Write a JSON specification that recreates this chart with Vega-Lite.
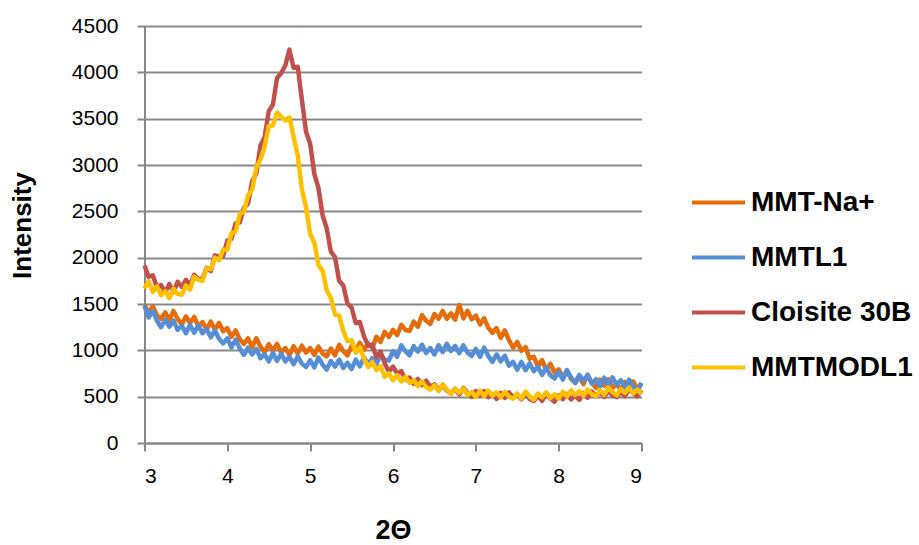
{
"$schema": "https://vega.github.io/schema/vega-lite/v6.json",
"width": 497, "height": 417,
"autosize": {"type": "none"},
"padding": {"left": 144.5, "top": 26, "right": 277.5, "bottom": 102},
"background": "white",
"config": {"view": {"stroke": null}, "font": "Liberation Sans"},
"datasets": {
"na": [{"x":3,"y":1490},{"x":3.05,"y":1405},{"x":3.1,"y":1475},{"x":3.15,"y":1380},{"x":3.2,"y":1340},{"x":3.25,"y":1410},{"x":3.3,"y":1325},{"x":3.35,"y":1425},{"x":3.4,"y":1340},{"x":3.45,"y":1280},{"x":3.5,"y":1365},{"x":3.55,"y":1295},{"x":3.6,"y":1360},{"x":3.65,"y":1260},{"x":3.7,"y":1305},{"x":3.75,"y":1225},{"x":3.8,"y":1310},{"x":3.85,"y":1220},{"x":3.9,"y":1295},{"x":3.95,"y":1205},{"x":4,"y":1240},{"x":4.05,"y":1145},{"x":4.1,"y":1215},{"x":4.15,"y":1120},{"x":4.2,"y":1070},{"x":4.25,"y":1130},{"x":4.3,"y":1035},{"x":4.35,"y":1130},{"x":4.4,"y":1040},{"x":4.45,"y":980},{"x":4.5,"y":1065},{"x":4.55,"y":1000},{"x":4.6,"y":1070},{"x":4.65,"y":975},{"x":4.7,"y":1025},{"x":4.75,"y":950},{"x":4.8,"y":1045},{"x":4.85,"y":965},{"x":4.9,"y":1050},{"x":4.95,"y":975},{"x":5,"y":1025},{"x":5.05,"y":950},{"x":5.1,"y":1040},{"x":5.15,"y":965},{"x":5.2,"y":935},{"x":5.25,"y":1020},{"x":5.3,"y":945},{"x":5.35,"y":1060},{"x":5.4,"y":990},{"x":5.45,"y":945},{"x":5.5,"y":1045},{"x":5.55,"y":995},{"x":5.6,"y":1080},{"x":5.65,"y":1005},{"x":5.7,"y":1075},{"x":5.75,"y":1025},{"x":5.8,"y":1145},{"x":5.85,"y":1090},{"x":5.9,"y":1200},{"x":5.95,"y":1145},{"x":6,"y":1220},{"x":6.05,"y":1165},{"x":6.1,"y":1275},{"x":6.15,"y":1220},{"x":6.2,"y":1210},{"x":6.25,"y":1310},{"x":6.3,"y":1255},{"x":6.35,"y":1380},{"x":6.4,"y":1320},{"x":6.45,"y":1285},{"x":6.5,"y":1390},{"x":6.55,"y":1340},{"x":6.6,"y":1425},{"x":6.65,"y":1340},{"x":6.7,"y":1400},{"x":6.75,"y":1330},{"x":6.8,"y":1490},{"x":6.85,"y":1345},{"x":6.9,"y":1425},{"x":6.95,"y":1335},{"x":7,"y":1375},{"x":7.05,"y":1280},{"x":7.1,"y":1345},{"x":7.15,"y":1245},{"x":7.2,"y":1190},{"x":7.25,"y":1240},{"x":7.3,"y":1135},{"x":7.35,"y":1215},{"x":7.4,"y":1110},{"x":7.45,"y":1030},{"x":7.5,"y":1090},{"x":7.55,"y":995},{"x":7.6,"y":1035},{"x":7.65,"y":910},{"x":7.7,"y":930},{"x":7.75,"y":825},{"x":7.8,"y":895},{"x":7.85,"y":790},{"x":7.9,"y":855},{"x":7.95,"y":760},{"x":8,"y":795},{"x":8.05,"y":705},{"x":8.1,"y":780},{"x":8.15,"y":692},{"x":8.2,"y":650},{"x":8.25,"y":720},{"x":8.3,"y":635},{"x":8.35,"y":735},{"x":8.4,"y":652},{"x":8.45,"y":595},{"x":8.5,"y":683},{"x":8.55,"y":617},{"x":8.6,"y":686},{"x":8.65,"y":590},{"x":8.7,"y":640},{"x":8.75,"y":565},{"x":8.8,"y":660},{"x":8.85,"y":580},{"x":8.9,"y":665},{"x":8.95,"y":585},{"x":9,"y":640}],
"l1": [{"x":3,"y":1480},{"x":3.05,"y":1355},{"x":3.1,"y":1425},{"x":3.15,"y":1320},{"x":3.2,"y":1250},{"x":3.25,"y":1330},{"x":3.3,"y":1255},{"x":3.35,"y":1320},{"x":3.4,"y":1220},{"x":3.45,"y":1265},{"x":3.5,"y":1185},{"x":3.55,"y":1275},{"x":3.6,"y":1190},{"x":3.65,"y":1270},{"x":3.7,"y":1185},{"x":3.75,"y":1230},{"x":3.8,"y":1140},{"x":3.85,"y":1215},{"x":3.9,"y":1125},{"x":3.95,"y":1075},{"x":4,"y":1130},{"x":4.05,"y":1030},{"x":4.1,"y":1115},{"x":4.15,"y":1020},{"x":4.2,"y":950},{"x":4.25,"y":1030},{"x":4.3,"y":955},{"x":4.35,"y":1015},{"x":4.4,"y":915},{"x":4.45,"y":960},{"x":4.5,"y":880},{"x":4.55,"y":970},{"x":4.6,"y":885},{"x":4.65,"y":965},{"x":4.7,"y":880},{"x":4.75,"y":930},{"x":4.8,"y":850},{"x":4.85,"y":935},{"x":4.9,"y":855},{"x":4.95,"y":820},{"x":5,"y":895},{"x":5.05,"y":815},{"x":5.1,"y":923},{"x":5.15,"y":845},{"x":5.2,"y":792},{"x":5.25,"y":885},{"x":5.3,"y":825},{"x":5.35,"y":900},{"x":5.4,"y":810},{"x":5.45,"y":865},{"x":5.5,"y":797},{"x":5.55,"y":900},{"x":5.6,"y":828},{"x":5.65,"y":922},{"x":5.7,"y":853},{"x":5.75,"y":915},{"x":5.8,"y":850},{"x":5.85,"y":955},{"x":5.9,"y":900},{"x":5.95,"y":890},{"x":6,"y":990},{"x":6.05,"y":930},{"x":6.1,"y":1055},{"x":6.15,"y":990},{"x":6.2,"y":945},{"x":6.25,"y":1045},{"x":6.3,"y":985},{"x":6.35,"y":1060},{"x":6.4,"y":970},{"x":6.45,"y":1025},{"x":6.5,"y":955},{"x":6.55,"y":1055},{"x":6.6,"y":980},{"x":6.65,"y":1070},{"x":6.7,"y":995},{"x":6.75,"y":1048},{"x":6.8,"y":970},{"x":6.85,"y":1055},{"x":6.9,"y":975},{"x":6.95,"y":940},{"x":7,"y":1015},{"x":7.05,"y":930},{"x":7.1,"y":1030},{"x":7.15,"y":940},{"x":7.2,"y":875},{"x":7.25,"y":955},{"x":7.3,"y":880},{"x":7.35,"y":940},{"x":7.4,"y":835},{"x":7.45,"y":875},{"x":7.5,"y":790},{"x":7.55,"y":875},{"x":7.6,"y":785},{"x":7.65,"y":860},{"x":7.7,"y":775},{"x":7.75,"y":820},{"x":7.8,"y":735},{"x":7.85,"y":815},{"x":7.9,"y":732},{"x":7.95,"y":695},{"x":8,"y":768},{"x":8.05,"y":685},{"x":8.1,"y":787},{"x":8.15,"y":705},{"x":8.2,"y":648},{"x":8.25,"y":735},{"x":8.3,"y":668},{"x":8.35,"y":736},{"x":8.4,"y":640},{"x":8.45,"y":688},{"x":8.5,"y":612},{"x":8.55,"y":705},{"x":8.6,"y":624},{"x":8.65,"y":708},{"x":8.7,"y":628},{"x":8.75,"y":678},{"x":8.8,"y":598},{"x":8.85,"y":683},{"x":8.9,"y":604},{"x":8.95,"y":570},{"x":9,"y":648}],
"cl": [{"x":3,"y":1915},{"x":3.05,"y":1795},{"x":3.1,"y":1810},{"x":3.15,"y":1680},{"x":3.2,"y":1705},{"x":3.25,"y":1625},{"x":3.3,"y":1715},{"x":3.35,"y":1630},{"x":3.4,"y":1740},{"x":3.45,"y":1685},{"x":3.5,"y":1760},{"x":3.55,"y":1705},{"x":3.6,"y":1815},{"x":3.65,"y":1770},{"x":3.7,"y":1770},{"x":3.75,"y":1890},{"x":3.8,"y":1855},{"x":3.85,"y":2025},{"x":3.9,"y":2010},{"x":3.95,"y":2020},{"x":4,"y":2185},{"x":4.05,"y":2205},{"x":4.1,"y":2370},{"x":4.15,"y":2380},{"x":4.2,"y":2535},{"x":4.25,"y":2585},{"x":4.3,"y":2825},{"x":4.35,"y":2910},{"x":4.4,"y":3210},{"x":4.45,"y":3300},{"x":4.5,"y":3580},{"x":4.55,"y":3650},{"x":4.6,"y":3940},{"x":4.65,"y":3990},{"x":4.7,"y":4075},{"x":4.75,"y":4245},{"x":4.8,"y":4050},{"x":4.85,"y":4060},{"x":4.9,"y":3705},{"x":4.95,"y":3360},{"x":5,"y":3230},{"x":5.05,"y":2905},{"x":5.1,"y":2750},{"x":5.15,"y":2460},{"x":5.2,"y":2315},{"x":5.25,"y":2065},{"x":5.3,"y":2005},{"x":5.35,"y":1750},{"x":5.4,"y":1700},{"x":5.45,"y":1505},{"x":5.5,"y":1460},{"x":5.55,"y":1295},{"x":5.6,"y":1305},{"x":5.65,"y":1150},{"x":5.7,"y":1050},{"x":5.75,"y":1060},{"x":5.8,"y":925},{"x":5.85,"y":985},{"x":5.9,"y":860},{"x":5.95,"y":770},{"x":6,"y":825},{"x":6.05,"y":752},{"x":6.1,"y":775},{"x":6.15,"y":687},{"x":6.2,"y":705},{"x":6.25,"y":637},{"x":6.3,"y":692},{"x":6.35,"y":624},{"x":6.4,"y":672},{"x":6.45,"y":608},{"x":6.5,"y":633},{"x":6.55,"y":571},{"x":6.6,"y":623},{"x":6.65,"y":564},{"x":6.7,"y":535},{"x":6.75,"y":584},{"x":6.8,"y":524},{"x":6.85,"y":595},{"x":6.9,"y":538},{"x":6.95,"y":498},{"x":7,"y":560},{"x":7.05,"y":512},{"x":7.1,"y":561},{"x":7.15,"y":494},{"x":7.2,"y":528},{"x":7.25,"y":476},{"x":7.3,"y":542},{"x":7.35,"y":486},{"x":7.4,"y":546},{"x":7.45,"y":491},{"x":7.5,"y":526},{"x":7.55,"y":471},{"x":7.6,"y":530},{"x":7.65,"y":476},{"x":7.7,"y":453},{"x":7.75,"y":508},{"x":7.8,"y":454},{"x":7.85,"y":531},{"x":7.9,"y":480},{"x":7.95,"y":446},{"x":8,"y":515},{"x":8.05,"y":474},{"x":8.1,"y":530},{"x":8.15,"y":470},{"x":8.2,"y":511},{"x":8.25,"y":466},{"x":8.3,"y":539},{"x":8.35,"y":489},{"x":8.4,"y":555},{"x":8.45,"y":506},{"x":8.5,"y":547},{"x":8.55,"y":498},{"x":8.6,"y":563},{"x":8.65,"y":514},{"x":8.7,"y":496},{"x":8.75,"y":555},{"x":8.8,"y":505},{"x":8.85,"y":585},{"x":8.9,"y":536},{"x":8.95,"y":504},{"x":9,"y":573}],
"mod": [{"x":3,"y":1665},{"x":3.05,"y":1745},{"x":3.1,"y":1630},{"x":3.15,"y":1690},{"x":3.2,"y":1595},{"x":3.25,"y":1640},{"x":3.3,"y":1565},{"x":3.35,"y":1665},{"x":3.4,"y":1610},{"x":3.45,"y":1600},{"x":3.5,"y":1700},{"x":3.55,"y":1655},{"x":3.6,"y":1795},{"x":3.65,"y":1760},{"x":3.7,"y":1750},{"x":3.75,"y":1885},{"x":3.8,"y":1875},{"x":3.85,"y":2000},{"x":3.9,"y":1970},{"x":3.95,"y":2085},{"x":4,"y":2085},{"x":4.05,"y":2265},{"x":4.1,"y":2280},{"x":4.15,"y":2470},{"x":4.2,"y":2495},{"x":4.25,"y":2670},{"x":4.3,"y":2735},{"x":4.35,"y":2975},{"x":4.4,"y":3060},{"x":4.45,"y":3200},{"x":4.5,"y":3420},{"x":4.55,"y":3425},{"x":4.6,"y":3565},{"x":4.65,"y":3520},{"x":4.7,"y":3480},{"x":4.75,"y":3515},{"x":4.8,"y":3305},{"x":4.85,"y":3100},{"x":4.9,"y":2740},{"x":4.95,"y":2545},{"x":5,"y":2255},{"x":5.05,"y":2165},{"x":5.1,"y":1920},{"x":5.15,"y":1860},{"x":5.2,"y":1645},{"x":5.25,"y":1570},{"x":5.3,"y":1385},{"x":5.35,"y":1375},{"x":5.4,"y":1210},{"x":5.45,"y":1100},{"x":5.5,"y":1110},{"x":5.55,"y":975},{"x":5.6,"y":1035},{"x":5.65,"y":910},{"x":5.7,"y":820},{"x":5.75,"y":875},{"x":5.8,"y":785},{"x":5.85,"y":830},{"x":5.9,"y":715},{"x":5.95,"y":750},{"x":6,"y":677},{"x":6.05,"y":732},{"x":6.1,"y":664},{"x":6.15,"y":714},{"x":6.2,"y":650},{"x":6.25,"y":676},{"x":6.3,"y":614},{"x":6.35,"y":666},{"x":6.4,"y":604},{"x":6.45,"y":575},{"x":6.5,"y":623},{"x":6.55,"y":563},{"x":6.6,"y":633},{"x":6.65,"y":573},{"x":6.7,"y":530},{"x":6.75,"y":589},{"x":6.8,"y":540},{"x":6.85,"y":587},{"x":6.9,"y":518},{"x":6.95,"y":550},{"x":7,"y":497},{"x":7.05,"y":562},{"x":7.1,"y":506},{"x":7.15,"y":566},{"x":7.2,"y":511},{"x":7.25,"y":547},{"x":7.3,"y":493},{"x":7.35,"y":553},{"x":7.4,"y":500},{"x":7.45,"y":478},{"x":7.5,"y":533},{"x":7.55,"y":479},{"x":7.6,"y":555},{"x":7.65,"y":503},{"x":7.7,"y":468},{"x":7.75,"y":534},{"x":7.8,"y":493},{"x":7.85,"y":547},{"x":7.9,"y":485},{"x":7.95,"y":525},{"x":8,"y":479},{"x":8.05,"y":552},{"x":8.1,"y":502},{"x":8.15,"y":568},{"x":8.2,"y":519},{"x":8.25,"y":560},{"x":8.3,"y":511},{"x":8.35,"y":576},{"x":8.4,"y":527},{"x":8.45,"y":509},{"x":8.5,"y":568},{"x":8.55,"y":518},{"x":8.6,"y":597},{"x":8.65,"y":547},{"x":8.7,"y":514},{"x":8.75,"y":582},{"x":8.8,"y":542},{"x":8.85,"y":597},{"x":8.9,"y":536},{"x":8.95,"y":576},{"x":9,"y":530}]
},
"encoding": {
  "x": {"field": "x", "type": "quantitative", "title": "2Θ",
    "scale": {"domain": [3, 9], "nice": false, "zero": false},
    "axis": {"values": [3,4,5,6,7,8,9], "format": "d", "grid": false,
      "domainColor": "#878787", "domainWidth": 2, "tickColor": "#878787", "tickWidth": 2, "tickSize": 8,
      "labelFont": "Liberation Sans", "labelFontSize": 21, "labelColor": "#000000", "labelPadding": 14,
      "titleFont": "Liberation Sans", "titleFontSize": 27, "titleFontWeight": "bold", "titleColor": "#000000",
      "titleY": 95, "titleBaseline": "alphabetic"}},
  "y": {"field": "y", "type": "quantitative", "title": "Intensity",
    "scale": {"domain": [0, 4500], "nice": false},
    "axis": {"values": [0,500,1000,1500,2000,2500,3000,3500,4000,4500], "format": "d", "grid": true,
      "gridColor": "#878787", "gridWidth": 2,
      "domainColor": "#878787", "domainWidth": 2, "tickColor": "#878787", "tickWidth": 2, "tickSize": 7.5,
      "labelFont": "Liberation Sans", "labelFontSize": 21, "labelColor": "#000000", "labelPadding": 19,
      "titleFont": "Liberation Sans", "titleFontSize": 26, "titleFontWeight": "bold", "titleColor": "#000000",
      "titleAngle": 270, "titleX": -114, "titleY": 199, "titleAlign": "center", "titleBaseline": "alphabetic"}}
},
"layer": [
  {"data": {"name": "na"}, "mark": {"type": "line", "strokeWidth": 4.5, "strokeJoin": "round"},
   "encoding": {"color": {"datum": "MMT-Na+", "type": "nominal",
     "scale": {"domain": ["MMT-Na+", "MMTL1", "Cloisite 30B", "MMTMODL1"], "range": ["#E46C0A", "#558ED5", "#C0504D", "#FFC000"]},
     "legend": {"orient": "none", "legendX": 545.5, "legendY": 148, "title": null, "padding": 0,
       "symbolType": "stroke", "symbolSize": 2809, "symbolStrokeWidth": 4,
       "labelFont": "Liberation Sans", "labelFontSize": 28, "labelFontWeight": "bold", "labelColor": "#000000",
       "labelLimit": 0, "labelOffset": 4, "rowPadding": 12}}}},
  {"data": {"name": "l1"}, "mark": {"type": "line", "strokeWidth": 4.5, "strokeJoin": "round"},
   "encoding": {"color": {"datum": "MMTL1", "type": "nominal"}}},
  {"data": {"name": "cl"}, "mark": {"type": "line", "strokeWidth": 4.5, "strokeJoin": "round"},
   "encoding": {"color": {"datum": "Cloisite 30B", "type": "nominal"}}},
  {"data": {"name": "mod"}, "mark": {"type": "line", "strokeWidth": 4.5, "strokeJoin": "round"},
   "encoding": {"color": {"datum": "MMTMODL1", "type": "nominal"}}}
]
}
